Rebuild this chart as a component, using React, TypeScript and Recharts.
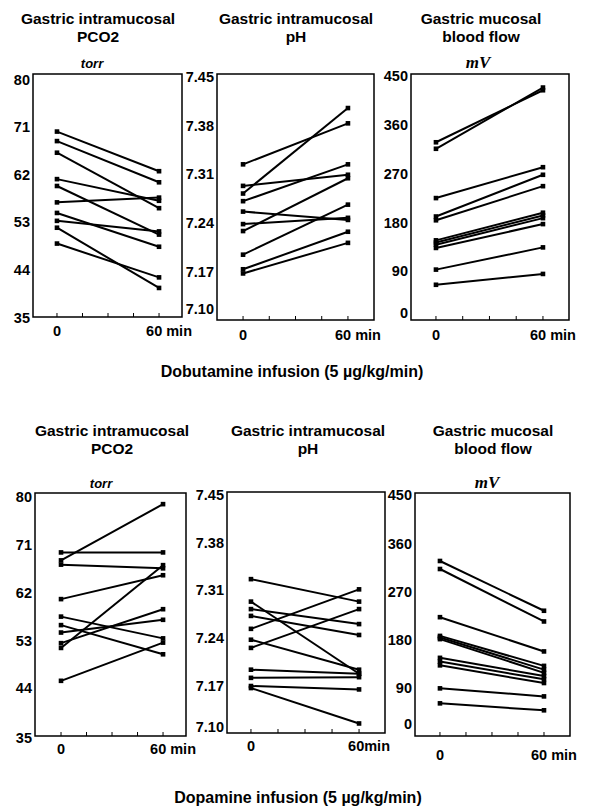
import { LineChart, Line, XAxis, YAxis, ReferenceArea } from 'recharts'

// Dobutamine (top row): values at 0 and 60 min for each subject
const dobPco2Start = [70.1, 68.3, 66.1, 61.1, 59.8, 56.7, 54.7, 53.2, 51.9, 48.9]
const dobPco2End = [62.6, 60.5, 55.6, 57.0, 50.6, 57.6, 48.3, 51.2, 40.5, 42.5]
const dobPhStart = [7.324, 7.293, 7.282, 7.271, 7.256, 7.238, 7.228, 7.194, 7.173, 7.167]
const dobPhEnd = [7.383, 7.309, 7.405, 7.324, 7.244, 7.247, 7.304, 7.266, 7.227, 7.211]
const dobFlowStart = [328, 316, 225, 191, 184, 147, 143, 139, 133, 93, 65]
const dobFlowEnd = [424, 429, 282, 268, 247, 198, 193, 188, 177, 134, 85]

// Dopamine (bottom row)
const dopPco2Start = [68.1, 69.6, 67.3, 60.8, 57.5, 55.9, 54.5, 52.5, 51.6, 45.4]
const dopPco2End = [78.7, 69.6, 66.6, 65.3, 53.4, 50.4, 56.9, 58.9, 67.2, 52.6]
const dopPhStart = [7.326, 7.293, 7.282, 7.272, 7.253, 7.237, 7.225, 7.193, 7.181, 7.169, 7.166]
const dopPhEnd = [7.293, 7.187, 7.26, 7.244, 7.311, 7.193, 7.282, 7.187, 7.182, 7.164, 7.114]
const dopFlowStart = [327, 312, 222, 187, 184, 181, 146, 139, 132, 89, 61]
const dopFlowEnd = [234, 214, 158, 131, 124, 118, 112, 106, 99, 74, 48]

const timePoints = [0, 60]
const minorTicks = [0, 15, 30, 45, 60]
const pco2Ticks = [35, 44, 53, 62, 71, 80]
const phTicks = [7.1, 7.17, 7.24, 7.31, 7.38, 7.45]
const flowTicks = [0, 90, 180, 270, 360, 450]

const FONT = '"Liberation Sans", Arial, sans-serif'
const TICK_SIZE = 14.5

interface PanelProps {
  start: number[]
  end: number[]
  yDomain: [number, number]
  yTicks: number[]
  yFormat: (v: number) => string
  xDomain: [number, number]
  box: { left: number; top: number; w: number; h: number }
  bottomShift: number
  labelDy: number
  endLabel: string
}

const Square = (props: any) => {
  const { cx, cy } = props
  if (cx == null || cy == null) return <g />
  return <rect x={cx - 2.3} y={cy - 2.3} width={4.6} height={4.6} fill="#000" />
}

function Panel({ start, end, yDomain, yTicks, yFormat, xDomain, box, bottomShift, labelDy, endLabel }: PanelProps) {
  const series = start.map((s, i) => [
    { t: timePoints[0], v: s },
    { t: timePoints[1], v: end[i] },
  ])

  const XTick = (props: any) => {
    const { x, y, payload } = props
    const v = payload.value
    return (
      <g>
        <line x1={x} y1={y} x2={x} y2={y - 4} stroke="#000" strokeWidth={1} />
        {v === 0 && (
          <text x={x} y={y + labelDy} textAnchor="middle" fontFamily={FONT} fontWeight="bold" fontSize={TICK_SIZE} fill="#000">
            0
          </text>
        )}
        {v === 60 && (
          <text x={x + 10} y={y + labelDy} textAnchor="middle" fontFamily={FONT} fontWeight="bold" fontSize={TICK_SIZE} fill="#000">
            {endLabel}
          </text>
        )}
      </g>
    )
  }

  const YTick = (props: any) => {
    const { x, y, payload } = props
    const shift = payload.value === yTicks[0] ? bottomShift : 0
    return (
      <text x={x} y={y + shift} dy="0.36em" textAnchor="end" fontFamily={FONT} fontWeight="bold" fontSize={TICK_SIZE} fill="#000">
        {yFormat(payload.value)}
      </text>
    )
  }

  return (
    <div style={{ position: 'absolute', left: box.left - 40, top: box.top - 10 }}>
      <LineChart
        width={box.w + 50}
        height={box.h + 40}
        margin={{ top: 10, right: 10, bottom: 0, left: 0 }}
      >
        <XAxis
          type="number"
          dataKey="t"
          domain={xDomain}
          ticks={minorTicks}
          allowDataOverflow
          axisLine={false}
          tickLine={false}
          tickSize={0}
          tickMargin={0}
          height={30}
          tick={<XTick />}
          interval={0}
        />
        <YAxis
          type="number"
          dataKey="v"
          domain={yDomain}
          ticks={yTicks}
          allowDataOverflow
          axisLine={false}
          tickLine={false}
          tickSize={0}
          tickMargin={3}
          width={40}
          tick={<YTick />}
          interval={0}
        />
        <ReferenceArea
          x1={xDomain[0]}
          x2={xDomain[1]}
          y1={yDomain[0]}
          y2={yDomain[1]}
          fill="none"
          stroke="#000"
          strokeWidth={1.5}
          ifOverflow="visible"
        />
        {series.map((d, i) => (
          <Line
            key={i}
            data={d}
            dataKey="v"
            stroke="#000"
            strokeWidth={2}
            dot={<Square />}
            activeDot={false}
            isAnimationActive={false}
          />
        ))}
      </LineChart>
    </div>
  )
}

const titleStyle = (cx: number, cy: number): React.CSSProperties => ({
  position: 'absolute',
  left: cx - 120,
  top: cy - 9,
  width: 240,
  textAlign: 'center',
  fontFamily: FONT,
  fontWeight: 'bold',
  fontSize: 15.5,
  lineHeight: '18px',
  color: '#000',
  whiteSpace: 'nowrap',
})

function Title({ cx, cy, lines }: { cx: number; cy: number; lines: string[] }) {
  return (
    <div style={titleStyle(cx, cy)}>
      {lines.map((l) => (
        <div key={l}>{l}</div>
      ))}
    </div>
  )
}

function Unit({ cx, cy, text, serif }: { cx: number; cy: number; text: string; serif?: boolean }) {
  return (
    <div
      style={{
        position: 'absolute',
        left: cx - 40,
        top: cy - 10,
        width: 80,
        textAlign: 'center',
        fontFamily: serif ? '"Liberation Serif", "Times New Roman", serif' : FONT,
        fontStyle: 'italic',
        fontWeight: 'bold',
        fontSize: serif ? 17 : 13,
        lineHeight: '20px',
        color: '#000',
      }}
    >
      {text}
    </div>
  )
}

function Caption({ cx, cy, text }: { cx: number; cy: number; text: string }) {
  return (
    <div
      style={{
        position: 'absolute',
        left: cx - 200,
        top: cy - 10,
        width: 400,
        textAlign: 'center',
        fontFamily: FONT,
        fontWeight: 'bold',
        fontSize: 16,
        lineHeight: '20px',
        color: '#000',
      }}
    >
      {text}
    </div>
  )
}

const f0 = (v: number) => String(v)
const f2 = (v: number) => v.toFixed(2)

export default function App() {
  return (
    <div style={{ position: 'absolute', left: 0, top: 0, width: 590, height: 807, background: '#fff', overflow: 'hidden' }}>
      <Title cx={98} cy={19} lines={['Gastric intramucosal', 'PCO2']} />
      <Title cx={296} cy={19} lines={['Gastric intramucosal', 'pH']} />
      <Title cx={481} cy={19} lines={['Gastric mucosal', 'blood flow']} />
      <Unit cx={92} cy={64} text="torr" />
      <Unit cx={478} cy={63} text="mV" serif />

      <Panel
        start={dobPco2Start}
        end={dobPco2End}
        yDomain={[35, 81]}
        yTicks={pco2Ticks}
        yFormat={f0}
        xDomain={[-14.1, 73.5]}
        box={{ left: 33, top: 74, w: 149, h: 243 }}
        bottomShift={1}
        labelDy={19}
        endLabel="60 min"
      />
      <Panel
        start={dobPhStart}
        end={dobPhEnd}
        yDomain={[7.1, 7.454]}
        yTicks={phTicks}
        yFormat={f2}
        xDomain={[-14.9, 74.9]}
        box={{ left: 217, top: 74, w: 157, h: 246 }}
        bottomShift={-11}
        labelDy={20}
        endLabel="60 min"
      />
      <Panel
        start={dobFlowStart}
        end={dobFlowEnd}
        yDomain={[0, 454]}
        yTicks={flowTicks}
        yFormat={f0}
        xDomain={[-14, 74.6]}
        box={{ left: 411, top: 74, w: 158, h: 246 }}
        bottomShift={-7}
        labelDy={20}
        endLabel="60 min"
      />

      <Caption cx={292} cy={372} text="Dobutamine infusion (5 µg/kg/min)" />

      <Title cx={112} cy={431} lines={['Gastric intramucosal', 'PCO2']} />
      <Title cx={308} cy={431} lines={['Gastric intramucosal', 'pH']} />
      <Title cx={493} cy={431} lines={['Gastric mucosal', 'blood flow']} />
      <Unit cx={101} cy={484} text="torr" />
      <Unit cx={487} cy={483} text="mV" serif />

      <Panel
        start={dopPco2Start}
        end={dopPco2End}
        yDomain={[35, 80.8]}
        yTicks={pco2Ticks}
        yFormat={f0}
        xDomain={[-15.3, 73.5]}
        box={{ left: 35, top: 493, w: 151, h: 243 }}
        bottomShift={2}
        labelDy={18}
        endLabel="60 min"
      />
      <Panel
        start={dopPhStart}
        end={dopPhEnd}
        yDomain={[7.1, 7.454]}
        yTicks={phTicks}
        yFormat={f2}
        xDomain={[-13.3, 74.4]}
        box={{ left: 227, top: 492, w: 158, h: 241 }}
        bottomShift={-6}
        labelDy={18}
        endLabel="60min"
      />
      <Panel
        start={dopFlowStart}
        end={dopFlowEnd}
        yDomain={[0, 454]}
        yTicks={flowTicks}
        yFormat={f0}
        xDomain={[-14.4, 75]}
        box={{ left: 415, top: 493, w: 155, h: 243 }}
        bottomShift={-12}
        labelDy={24}
        endLabel="60 min"
      />

      <Caption cx={298} cy={798} text="Dopamine infusion (5 µg/kg/min)" />
    </div>
  )
}
